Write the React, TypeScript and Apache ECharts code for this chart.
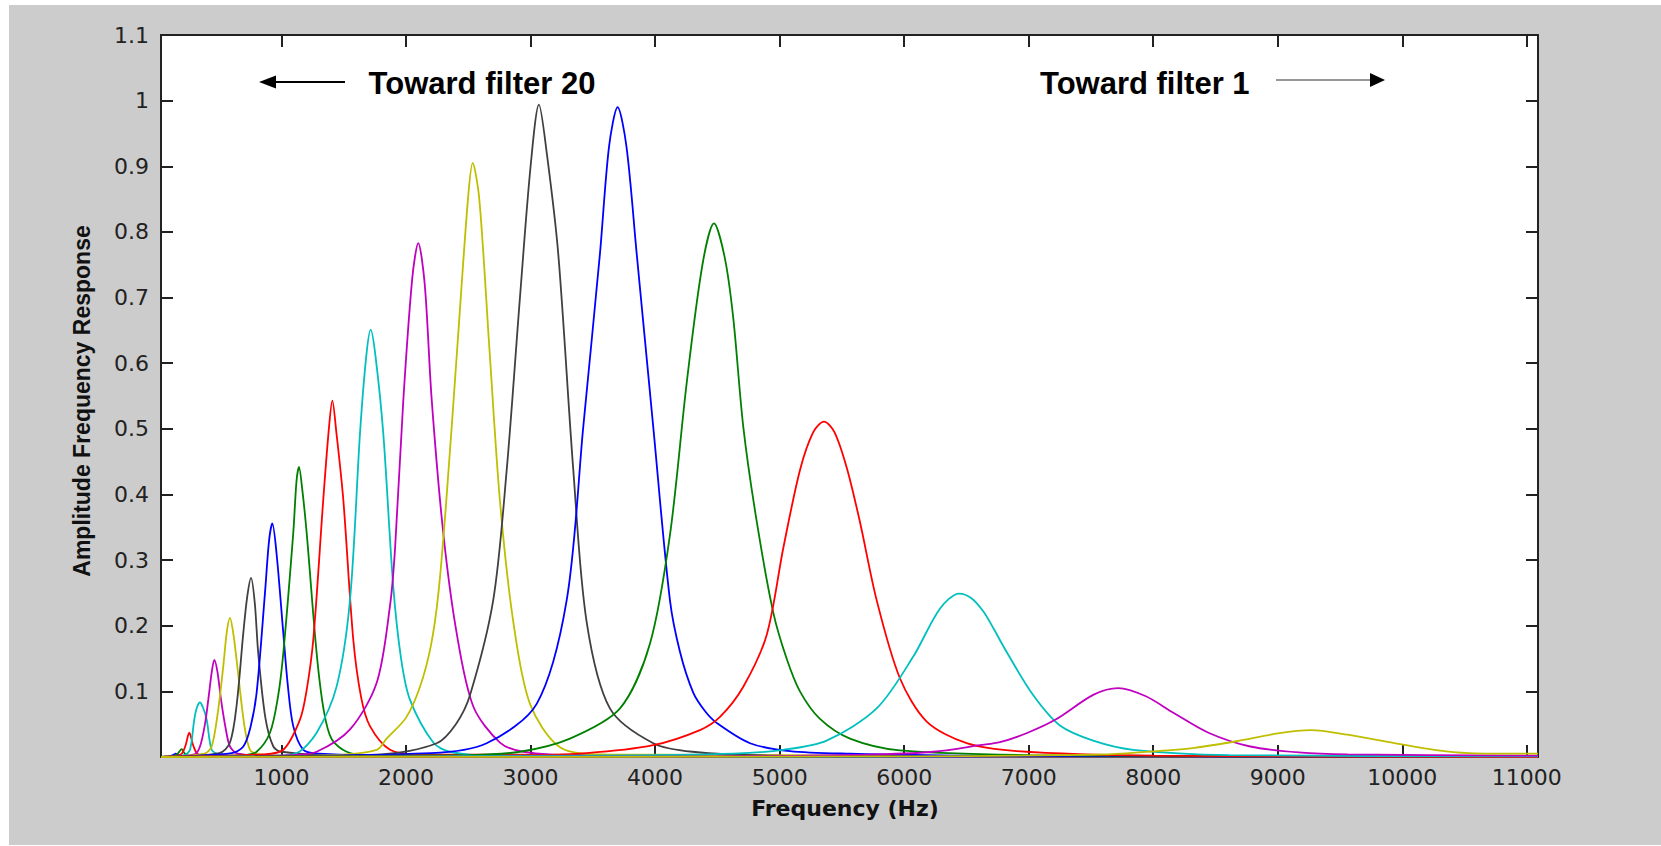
import React, { useEffect, useRef } from "react";
import * as echarts from "echarts";

// Filter responses: [frequency (Hz), amplitude], lowest-frequency filter first
const f01 = [[32,0],[100,0.001],[130,0.003],[150,0.005],[170,0.003],[200,0.001],[400,0],[11090,0]];
const f02 = [[32,0],[140,0.002],[170,0.006],[198,0.012],[220,0.006],[250,0.002],[320,0.001],[11090,0]];
const f03 = [[32,0],[170,0.002],[203,0.006],[230,0.018],[259,0.037],[290,0.018],[319,0.006],[360,0.002],[600,0],[11090,0]];
const f04 = [[32,0],[220,0.003],[265,0.011],[299,0.057],[320,0.075],[345,0.083],[370,0.075],[399,0.057],[439,0.011],[500,0.004],[800,0.001],[11090,0]];
const f05 = [[32,0],[300,0.004],[345,0.016],[385,0.05],[412,0.0875],[440,0.13],[460,0.148],[485,0.13],[514,0.0875],[550,0.045],[586,0.016],[650,0.005],[1000,0.001],[11090,0]];
const f06 = [[32,0],[380,0.005],[439,0.016],[490,0.07],[532,0.138],[560,0.19],[586,0.212],[615,0.185],[645,0.138],[700,0.05],[747,0.011],[820,0.004],[1300,0.001],[11090,0]];
const f07 = [[32,0],[500,0.006],[586,0.022],[640,0.08],[693,0.189],[725,0.245],[755,0.273],[785,0.235],[813,0.158],[870,0.06],[934,0.016],[1000,0.008],[1500,0.002],[11090,0]];
const f08 = [[32,0],[600,0.006],[693,0.016],[750,0.045],[800,0.098],[867,0.25],[900,0.33],[926,0.356],[960,0.31],[1014,0.189],[1050,0.11],[1094,0.047],[1175,0.011],[1300,0.005],[2000,0.001],[11090,0]];
const f09 = [[32,0],[700,0.003],[800,0.008],[907,0.037],[970,0.09],[1014,0.158],[1094,0.341],[1120,0.42],[1140,0.442],[1165,0.41],[1202,0.341],[1282,0.158],[1340,0.07],[1403,0.027],[1523,0.008],[1700,0.003],[11090,0]];
const f10 = [[32,0],[850,0.004],[1014,0.011],[1148,0.057],[1200,0.1],[1255,0.179],[1335,0.392],[1380,0.5],[1408,0.543],[1440,0.495],[1496,0.392],[1576,0.179],[1640,0.09],[1710,0.047],[1871,0.011],[2100,0.004],[11090,0]];
const f11 = [[32,0],[950,0.002],[1122,0.006],[1282,0.037],[1443,0.108],[1550,0.24],[1630,0.493],[1680,0.61],[1716,0.651],[1755,0.61],[1817,0.493],[1897,0.26],[1960,0.15],[2031,0.0875],[2219,0.022],[2353,0.008],[2700,0.002],[11090,0]];
const f12 = [[32,0],[1100,0.003],[1282,0.008],[1550,0.042],[1764,0.113],[1870,0.229],[1911,0.316],[1978,0.544],[2050,0.73],[2098,0.783],[2150,0.72],[2206,0.544],[2299,0.341],[2406,0.189],[2540,0.077],[2754,0.022],[2942,0.008],[3400,0.002],[11090,0]];
const f13 = [[32,0],[1400,0.003],[1764,0.011],[1844,0.028],[2000,0.06],[2112,0.107],[2200,0.17],[2260,0.25],[2323,0.39],[2410,0.62],[2497,0.85],[2535,0.905],[2588,0.85],[2670,0.62],[2754,0.39],[2861,0.206],[2995,0.081],[3236,0.015],[3600,0.004],[11090,0]];
const f14 = [[32,0],[1800,0.004],[2246,0.021],[2400,0.05],[2513,0.094],[2700,0.239],[2808,0.437],[2915,0.701],[3000,0.9],[3067,0.994],[3130,0.92],[3222,0.767],[3343,0.437],[3450,0.206],[3637,0.074],[3985,0.021],[4300,0.008],[5000,0.002],[11090,0]];
const f15 = [[32,0],[2200,0.006],[2647,0.021],[3049,0.081],[3290,0.239],[3423,0.503],[3557,0.767],[3630,0.93],[3699,0.99],[3770,0.93],[3852,0.767],[3985,0.503],[4119,0.239],[4200,0.16],[4306,0.098],[4400,0.07],[4494,0.052],[4762,0.021],[5083,0.009],[5565,0.005],[6500,0.002],[11090,0]];
const f16 = [[32,0],[2500,0.003],[2915,0.008],[3316,0.028],[3718,0.074],[3959,0.173],[4119,0.338],[4253,0.569],[4380,0.75],[4473,0.813],[4560,0.76],[4628,0.668],[4708,0.503],[4815,0.36],[4949,0.22],[5056,0.15],[5163,0.1],[5324,0.058],[5565,0.028],[5966,0.01],[7000,0.003],[11090,0]];
const f17 = [[32,0],[2800,0.002],[3450,0.006],[3985,0.018],[4360,0.041],[4521,0.061],[4708,0.107],[4896,0.186],[5029,0.318],[5163,0.437],[5270,0.495],[5356,0.511],[5440,0.495],[5540,0.44],[5645,0.358],[5779,0.239],[5966,0.12],[6181,0.054],[6502,0.021],[6903,0.009],[8000,0.002],[11090,0]];
const f18 = [[32,0],[3500,0.002],[4628,0.005],[5029,0.011],[5377,0.025],[5779,0.074],[6073,0.153],[6287,0.226],[6442,0.249],[6540,0.242],[6635,0.222],[6720,0.195],[6823,0.16],[7037,0.094],[7251,0.048],[7518,0.025],[7839,0.011],[8611,0.003],[11090,0.001]];
const f19 = [[32,0],[4500,0.001],[5699,0.0035],[6234,0.008],[6609,0.018],[6769,0.0225],[6992,0.037],[7216,0.057],[7522,0.095],[7718,0.105],[7941,0.0925],[8165,0.067],[8443,0.037],[8779,0.016],[9169,0.007],[9560,0.004],[11090,0.002]];
const f20 = [[32,0],[6000,0.001],[7607,0.004],[8025,0.009],[8332,0.014],[8668,0.024],[9001,0.036],[9267,0.041],[9560,0.034],[9895,0.0225],[10258,0.011],[10537,0.006],[11011,0.005],[11090,0.005]];

const filters = [f01, f02, f03, f04, f05, f06, f07, f08, f09, f10, f11, f12, f13, f14, f15, f16, f17, f18, f19, f20];
const colorCycle = ["#0000ff", "#008000", "#ff0000", "#00bfbf", "#bf00bf", "#bfbf00", "#404040"];

const xTicks = [1000, 2000, 3000, 4000, 5000, 6000, 7000, 8000, 9000, 10000, 11000];
const yTicks = [0.1, 0.2, 0.3, 0.4, 0.5, 0.6, 0.7, 0.8, 0.9, 1.0];
const yLabels = [0.1, 0.2, 0.3, 0.4, 0.5, 0.6, 0.7, 0.8, 0.9, 1.0, 1.1];
const xMin = 32;
const xMax = 11090;

const xName = "Frequency (Hz)";
const yName = "Amplitude Frequency Response";
const leftNote = "Toward filter 20";
const rightNote = "Toward filter 1";

export default function App() {
  const ref = useRef<HTMLDivElement>(null);
  useEffect(() => {
    if (!ref.current) return;
    const chart = echarts.init(ref.current, null, { renderer: "svg" });
    const axisColor = "#222";
    const labelFont = { fontFamily: "DejaVu Sans", fontSize: 22, color: "#222" };
    const option: any = {
      animation: false,
      backgroundColor: "#cccccc",
      grid: { left: 152, top: 30, right: 123, bottom: 88, show: true, backgroundColor: "#ffffff", borderWidth: 0 },
      xAxis: [
        {
          type: "value", min: xMin, max: xMax, position: "bottom",
          axisLine: { show: true, onZero: false, lineStyle: { color: axisColor, width: 2 } },
          axisTick: { show: true, inside: true, length: 12, customValues: xTicks, lineStyle: { color: axisColor, width: 2 } },
          axisLabel: { show: true, customValues: xTicks, margin: 9, formatter: (v: number) => String(v), ...labelFont },
          splitLine: { show: false },
        },
        {
          type: "value", min: xMin, max: xMax, position: "top",
          axisLine: { show: true, onZero: false, lineStyle: { color: axisColor, width: 2 } },
          axisTick: { show: true, inside: true, length: 12, customValues: xTicks, lineStyle: { color: axisColor, width: 2 } },
          axisLabel: { show: false },
          splitLine: { show: false },
        },
      ],
      yAxis: [
        {
          type: "value", min: 0, max: 1.1, position: "left",
          axisLine: { show: true, onZero: false, lineStyle: { color: axisColor, width: 2 } },
          axisTick: { show: true, inside: true, length: 12, customValues: yTicks, lineStyle: { color: axisColor, width: 2 } },
          axisLabel: { show: true, customValues: yLabels, margin: 12, formatter: (v: number) => String(v), ...labelFont },
          splitLine: { show: false },
        },
        {
          type: "value", min: 0, max: 1.1, position: "right",
          axisLine: { show: true, onZero: false, lineStyle: { color: axisColor, width: 2 } },
          axisTick: { show: true, inside: true, length: 12, customValues: yTicks, lineStyle: { color: axisColor, width: 2 } },
          axisLabel: { show: false },
          splitLine: { show: false },
        },
      ],
      series: filters.map((d, i) => ({
        type: "line",
        name: "filter " + (20 - i),
        xAxisIndex: 0,
        yAxisIndex: 0,
        data: d,
        symbol: "none",
        showSymbol: false,
        smooth: 0.3,
        lineStyle: { color: colorCycle[i % colorCycle.length], width: 1.8 },
        itemStyle: { color: colorCycle[i % colorCycle.length] },
        z: 2 + i * 0.01,
      })),
      graphic: [
        {
          type: "text", x: 836, y: 803,
          style: { text: xName, fontFamily: "DejaVu Sans", fontWeight: "bold", fontSize: 22, fill: "#111", align: "center", verticalAlign: "middle" },
        },
        {
          type: "text", x: 73, y: 396, rotation: Math.PI / 2,
          style: { text: yName, fontFamily: "'Liberation Sans', Arial", fontWeight: "bold", fontSize: 23, fill: "#111", align: "center", verticalAlign: "middle" },
        },
        {
          type: "text", x: 359.6, y: 78.5,
          style: { text: leftNote, fontFamily: "'Liberation Sans', Arial", fontWeight: "bold", fontSize: 31, fill: "#000", align: "left", verticalAlign: "middle" },
        },
        {
          type: "text", x: 1031, y: 78.5,
          style: { text: rightNote, fontFamily: "'Liberation Sans', Arial", fontWeight: "bold", fontSize: 31, fill: "#000", align: "left", verticalAlign: "middle" },
        },
        { type: "line", shape: { x1: 264, y1: 77, x2: 336, y2: 77 }, style: { stroke: "#000", lineWidth: 2 } },
        { type: "polygon", shape: { points: [[250, 77], [267, 70.5], [267, 83.5]] }, style: { fill: "#000" } },
        { type: "line", shape: { x1: 1267, y1: 75, x2: 1363, y2: 75 }, style: { stroke: "#333", lineWidth: 1.2 } },
        { type: "polygon", shape: { points: [[1376, 75], [1361, 68], [1361, 82]] }, style: { fill: "#000" } },
      ],
    };
    chart.setOption(option);
    return () => chart.dispose();
  }, []);
  return <div ref={ref} style={{ position: "absolute", left: 9, top: 5, width: 1652, height: 840 }} />;
}
